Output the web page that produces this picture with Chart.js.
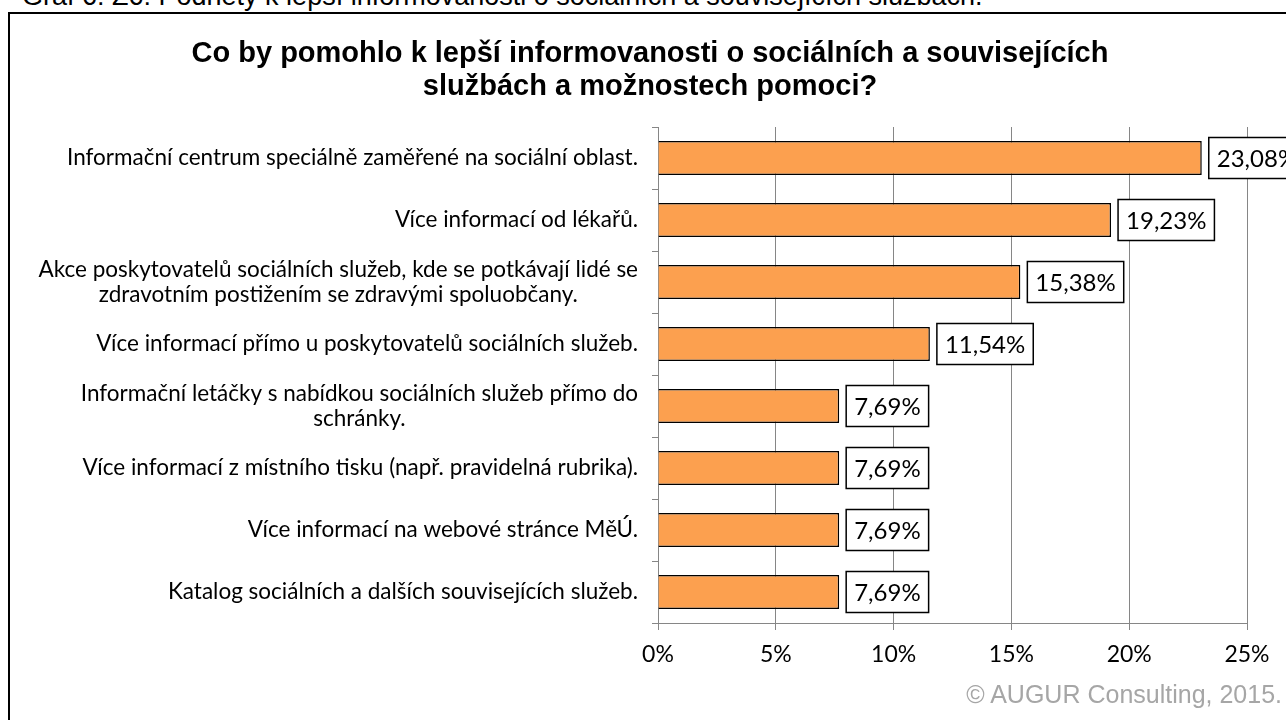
<!DOCTYPE html>
<html>
<head>
<meta charset="utf-8">
<script src="https://cdn.jsdelivr.net/npm/chart.js"></script>
<style>
  html,body{margin:0;padding:0;width:1286px;height:720px;overflow:hidden;background:#fff;}
  #cap{position:absolute;left:22px;top:-19px;font:27px "Liberation Sans",Arial,sans-serif;color:#000;white-space:nowrap;}
  #frame{position:absolute;left:8px;top:12px;width:1320px;height:760px;border:2px solid #000;box-sizing:border-box;background:#fff;}
  #wrap{position:absolute;left:9px;top:14px;width:1282px;height:706px;}
  #credit{position:absolute;right:4px;top:680px;font:25px "Liberation Sans",Arial,sans-serif;color:#a6a6a6;white-space:nowrap;}
</style>
</head>
<body>
<div id="cap">Graf 6: Z6: Podněty k lepší informovanosti o sociálních a souvisejících službách.</div>
<div id="frame"></div>
<div id="wrap"><canvas id="c" width="1282" height="706"></canvas></div>
<div id="credit">© AUGUR Consulting, 2015.</div>
<script>
const title = ['Co by pomohlo k lepší informovanosti o sociálních a souvisejících', 'službách a možnostech pomoci?'];
const categories = [
  ['Informační centrum speciálně zaměřené na sociální oblast.'],
  ['Více informací od lékařů.'],
  ['Akce poskytovatelů sociálních služeb, kde se potkávají lidé se', 'zdravotním postižením se zdravými spoluobčany.'],
  ['Více informací přímo u poskytovatelů sociálních služeb.'],
  ['Informační letáčky s nabídkou sociálních služeb přímo do', 'schránky.'],
  ['Více informací z místního tisku (např. pravidelná rubrika).'],
  ['Více informací na webové stránce MěÚ.'],
  ['Katalog sociálních a dalších souvisejících služeb.']
];
const values = [23.08, 19.23, 15.38, 11.54, 7.69, 7.69, 7.69, 7.69];
const xTicks = [0, 5, 10, 15, 20, 25];

const fmt = v => v.toFixed(2).replace('.', ',') + '%';
const GRID = '#868686';

// category labels: right aligned block, lines centred to each other
const catLabels = {
  id: 'catLabels',
  afterDraw(c) {
    const ctx = c.ctx, y = c.scales.y;
    ctx.save();
    ctx.font = '22.5px Lato';
    ctx.fillStyle = '#000';
    ctx.textAlign = 'center';
    ctx.textBaseline = 'middle';
    const right = c.chartArea.left - 20, lh = 25;
    categories.forEach((lines, i) => {
      const w = Math.max(...lines.map(l => ctx.measureText(l).width));
      const cy = y.getPixelForValue(i);
      lines.forEach((l, k) => ctx.fillText(l, right - w / 2, cy + (k - (lines.length - 1) / 2) * lh));
    });
    ctx.restore();
  }
};

// value labels in white boxes
const valueBoxes = {
  id: 'valueBoxes',
  afterDatasetsDraw(c) {
    const ctx = c.ctx;
    ctx.save();
    ctx.font = '24px Lato';
    ctx.textAlign = 'center';
    ctx.textBaseline = 'middle';
    ctx.lineWidth = 1.5;
    c.getDatasetMeta(0).data.forEach((bar, i) => {
      const t = fmt(values[i]);
      const bw = ctx.measureText(t).width + 16, h = 41, x0 = bar.x + 7;
      ctx.fillStyle = '#fff';
      ctx.fillRect(x0, bar.y - h / 2, bw, h);
      ctx.strokeStyle = '#000';
      ctx.strokeRect(x0, bar.y - h / 2, bw, h);
      ctx.fillStyle = '#000';
      ctx.fillText(t, x0 + bw / 2, bar.y + 1);
    });
    ctx.restore();
  }
};

new Chart(document.getElementById('c'), {
  type: 'bar',
  data: {
    labels: categories.map(l => l.join(' ')),
    datasets: [{
      data: values,
      backgroundColor: '#fca04f',
      borderColor: '#000',
      borderWidth: 1.5,
      barPercentage: 0.55,
      categoryPercentage: 1
    }]
  },
  options: {
    indexAxis: 'y',
    responsive: false,
    animation: false,
    layout: { padding: { left: 44, right: 44, top: 0, bottom: 37 } },
    plugins: {
      legend: { display: false },
      tooltip: { enabled: false },
      title: {
        display: true,
        text: title,
        color: '#000',
        font: { family: '"Liberation Sans", Arial, sans-serif', size: 29, weight: 'bold', lineHeight: 33 / 29 },
        padding: { top: 23.5, bottom: 23.5 }
      }
    },
    scales: {
      x: {
        min: xTicks[0], max: xTicks[xTicks.length - 1],
        afterBuildTicks: s => { s.ticks = xTicks.map(v => ({ value: v })); },
        afterFit: s => { s.height = 60; },
        ticks: { callback: v => v + '%', color: '#000', padding: 11, font: { family: 'Lato', size: 23 } },
        grid: { color: GRID, lineWidth: 1, tickLength: 7 },
        border: { color: GRID, width: 1 }
      },
      y: {
        ticks: { display: false },
        afterFit: s => { s.width = 605; },
        grid: { drawOnChartArea: false, color: GRID, tickLength: 6, offset: true },
        border: { color: GRID, width: 1 }
      }
    }
  },
  plugins: [catLabels, valueBoxes]
});
</script>
</body>
</html>
